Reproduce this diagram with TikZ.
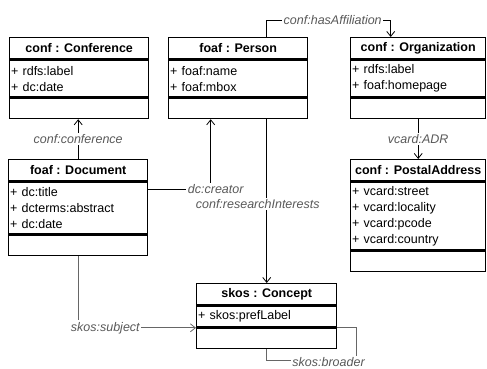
\documentclass[tikz,border=0pt]{standalone}
\usepackage{fontspec}
\setmainfont{Liberation Sans}
\usetikzlibrary{positioning,arrows.meta}

\begin{document}
\begin{tikzpicture}[x=1pt,y=-1pt]
\tikzstyle{classname}=[draw, line width=1.4pt, inner sep=0pt, minimum height=21pt, font=\fontsize{12.5}{16}\selectfont\bfseries]
\tikzstyle{attribs}=[draw, line width=1.4pt, inner xsep=1.5pt, inner ysep=0pt, align=left, font=\fontsize{12.5}{16}\selectfont]
\tikzstyle{ops}=[draw, line width=1.4pt, inner sep=0pt, minimum height=20pt]
\tikzstyle{assoc}=[line width=0.8pt, -{Straight Barb[length=5pt,width=8pt]}]
\tikzstyle{rolename}=[fill=white, inner sep=1.5pt, text=black!65, font=\fontsize{12.5}{16}\selectfont\itshape]
\useasboundingbox (0,0) rectangle (487,369);
\clip (0,0) rectangle (487,369);
 % conf : Conference
 \node[classname, minimum width=139pt, anchor=north west] (conference) at (9,37) {conf : Conference};
 \node[attribs, text width=136pt, minimum height=37pt, below=0pt of conference] (conference-attr) {+ rdfs:label\\+ dc:date};
 \node[ops, minimum width=139pt, below=0pt of conference-attr] (conference-ops) {};
 % foaf : Person
 \node[classname, minimum width=139pt, anchor=north west] (person) at (168,37) {foaf : Person};
 \node[attribs, text width=136pt, minimum height=37pt, below=0pt of person] (person-attr) {+ foaf:name\\+ foaf:mbox};
 \node[ops, minimum width=139pt, below=0pt of person-attr] (person-ops) {};
 % conf : Organization
 \node[classname, minimum width=135pt, anchor=north west] (organization) at (350,37) {conf : Organization};
 \node[attribs, text width=132pt, minimum height=37pt, below=0pt of organization] (organization-attr) {+ rdfs:label\\+ foaf:homepage};
 \node[ops, minimum width=135pt, below=0pt of organization-attr] (organization-ops) {};
 % foaf : Document
 \node[classname, minimum width=139pt, anchor=north west] (document) at (8,159) {foaf : Document};
 \node[attribs, text width=136pt, minimum height=52pt, below=0pt of document] (document-attr) {+ dc:title\\+ dcterms:abstract\\+ dc:date};
 \node[ops, minimum width=139pt, below=0pt of document-attr] (document-ops) {};
 % conf : PostalAddress
 \node[classname, minimum width=135pt, anchor=north west] (postal) at (350,159) {conf : PostalAddress};
 \node[attribs, text width=132pt, minimum height=68pt, below=0pt of postal] (postal-attr) {+ vcard:street\\+ vcard:locality\\+ vcard:pcode\\+ vcard:country};
 \node[ops, minimum width=135pt, below=0pt of postal-attr] (postal-ops) {};
 % skos : Concept
 \node[classname, minimum width=140pt, anchor=north west] (concept) at (196,283) {skos : Concept};
 \node[attribs, text width=137pt, minimum height=21pt, below=0pt of concept] (concept-attr) {+ skos:prefLabel};
 \node[ops, minimum width=140pt, below=0pt of concept-attr] (concept-ops) {};

 % associations
 \draw[assoc] (document.north) -- node[rolename]{conf:conference} (document.north |- conference-ops.south);
 \draw[assoc] ([yshift=-8pt]document-attr.north east) -| node[rolename, pos=0.5, xshift=5pt]{dc:creator} ([xshift=-27.5pt]person-ops.south);
 \draw[assoc] (concept.north |- person-ops.south) -- node[rolename, pos=0.52, xshift=-9pt]{conf:researchInterests} (concept.north);
 \draw[assoc] (person.north -| concept.north) -- ++(0,-17) -| node[rolename, pos=0.25, xshift=4pt]{conf:hasAffiliation} ([xshift=-27.5pt]organization.north);
 \draw[assoc] (organization-ops.south) -- node[rolename]{vcard:ADR} (postal.north);
 \draw[assoc, black!60] (document-ops.south) |- node[rolename, pos=0.615]{skos:subject} (concept-ops.north west);
 \draw[line width=0.8pt, black!60] (concept-ops.north east) -- ++(19,0) -- ++(0,33) -| node[rolename, pos=0.25, xshift=17pt, yshift=-1pt]{skos:broader} (concept-ops.south);
\end{tikzpicture}
\end{document}
